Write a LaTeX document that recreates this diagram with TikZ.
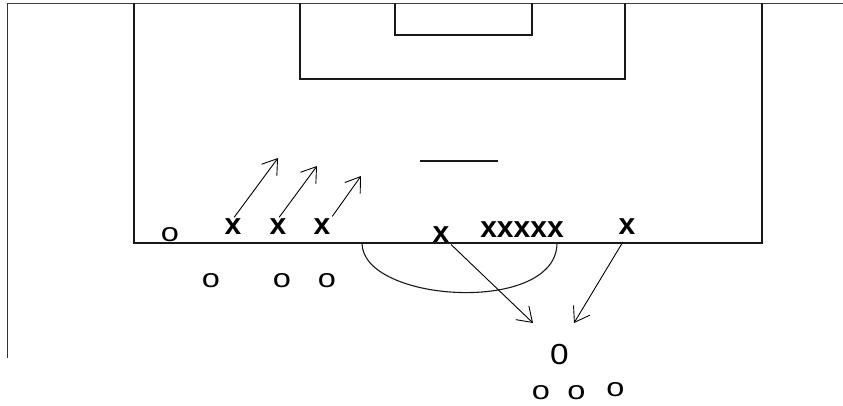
\documentclass[tikz,border=0pt]{standalone}
\usepackage{fontspec}
\setmainfont{Liberation Sans}
\usetikzlibrary{arrows.meta}
\begin{document}
\begin{tikzpicture}[x=1pt,y=-1pt,
  fieldline/.style={line width=1.4pt, draw=black!90},
  move/.style={line width=0.9pt, -{Straight Barb[length=14pt,width=19pt,line width=0.9pt]}},
  xpl/.style={inner sep=0pt, font=\fontsize{30}{30}\selectfont\bfseries},
  opl/.style={inner sep=0pt, font=\fontsize{26}{26}\selectfont},
  zpl/.style={inner sep=0pt, font=\fontsize{29}{29}\selectfont},
]
\useasboundingbox (0,0) rectangle (843,406);
% field
\draw[fieldline, draw=black!75] (7,3.5) -- (843,3.5);
\draw[fieldline, draw=black!80] (7.5,3.5) -- (7.5,358);
\draw[fieldline] (134,3.5) -- (134,243) -- (762,243) -- (762,3.5);
\draw[fieldline] (300,3.5) -- (300,79) -- (625,79) -- (625,3.5);
\draw[fieldline] (395,3.5) -- (395,35) -- (532,35) -- (532,3.5);
\draw[fieldline, line width=1.1pt] (420,161) -- (498,161);
\draw[fieldline, line width=1.1pt] (362,243) .. controls (362,303) and (557,315) .. (557,243);
% players
\node[opl] (o1) at (170,235) {\scalebox{1.25}[1]{o}};
\node[xpl] (x1) at (233,227) {x};
\node[xpl] (x2) at (278,227) {x};
\node[xpl] (x3) at (322,227) {x};
\node[xpl] (xm) at (441,235) {x};
\node[xpl] (x5) at (522,230) {xxxxx};
\node[xpl] (xr) at (627,227) {x};
\node[opl] (o2) at (211,281) {\scalebox{1.25}[1]{o}};
\node[opl] (o3) at (282,281) {\scalebox{1.25}[1]{o}};
\node[opl] (o4) at (327,281) {\scalebox{1.25}[1]{o}};
\node[zpl] (z) at (559.5,354.5) {\scalebox{1.15}[1]{0}};
\node[opl] (o5) at (541,393) {\scalebox{1.25}[1]{o}};
\node[opl] (o6) at (576.5,393) {\scalebox{1.25}[1]{o}};
\node[opl] (o7) at (615.5,389.5) {\scalebox{1.25}[1]{o}};
% arrow targets
\coordinate (t1) at (278,158);
\coordinate (t2) at (317,166);
\coordinate (t3) at (361,176);
\coordinate (t4) at (533,323);
\coordinate (t5) at (574,323);
\draw[move, shorten <=2pt] (x1.north) -- (t1);
\draw[move, shorten <=2pt] (x2.north) -- (t2);
\draw[move, shorten <=3pt] (x3.north east) -- (t3);
\draw[move, shorten <=2pt] (xm.south east) -- (t4);
\draw[move, shorten <=8pt] (xr.south) -- (t5);
\end{tikzpicture}
\end{document}
